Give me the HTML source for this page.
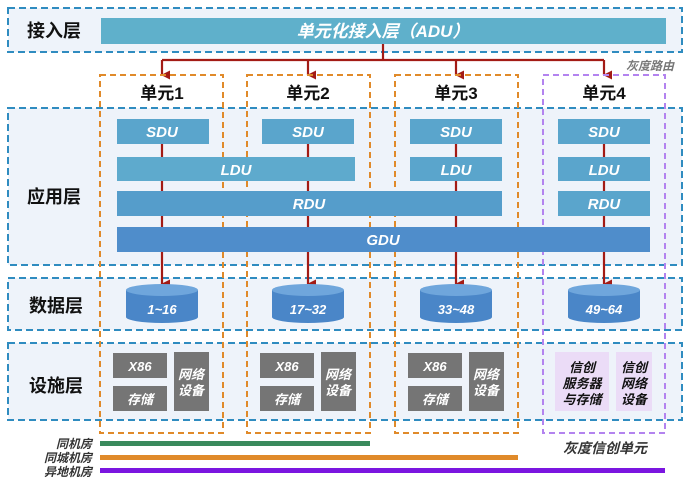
<!DOCTYPE html>
<html><head><meta charset="utf-8"><style>
html,body{margin:0;padding:0;background:#fff;width:690px;height:482px;overflow:hidden}
svg{display:block}
text{font-family:"Liberation Sans","Noto Sans CJK SC",sans-serif;font-weight:bold}
.w{fill:#fff;font-style:italic;font-size:15px}
.lbl{fill:#111;font-size:18px}
</style></head><body>
<svg width="690" height="482" viewBox="0 0 690 482" xmlns="http://www.w3.org/2000/svg">
<defs>
<marker id="ar" markerWidth="9" markerHeight="9" refX="4.5" refY="8" orient="auto" markerUnits="userSpaceOnUse">
<path d="M0,0 L9,0 L4.5,9 z" fill="#a31b15"/></marker>
</defs>
<g fill="#eef3fa" stroke="#2f8cc0" stroke-width="2" stroke-dasharray="7,4">
<rect x="8" y="8" width="674" height="44"/>
<rect x="8" y="108" width="674" height="157"/>
<rect x="8" y="278" width="674" height="52"/>
<rect x="8" y="343" width="674" height="77"/>
</g>
<text class="lbl" x="54" y="37" text-anchor="middle">接入层</text>
<text class="lbl" x="54" y="203" text-anchor="middle">应用层</text>
<text class="lbl" x="56" y="312" text-anchor="middle">数据层</text>
<text class="lbl" x="56" y="392" text-anchor="middle">设施层</text>
<rect x="101" y="18" width="565" height="26" fill="#5fb0cb"/>
<text class="w" x="383" y="37" text-anchor="middle" style="font-size:17px">单元化接入层（ADU）</text>
<g stroke="#a31b15" stroke-width="2.2" fill="none">
<line x1="383" y1="44" x2="383" y2="60"/>
<line x1="162" y1="60" x2="604" y2="60"/>
<line x1="162" y1="60" x2="162" y2="75" marker-end="url(#ar)"/>
<line x1="308" y1="60" x2="308" y2="75" marker-end="url(#ar)"/>
<line x1="456" y1="60" x2="456" y2="75" marker-end="url(#ar)"/>
<line x1="604" y1="60" x2="604" y2="75" marker-end="url(#ar)"/>
</g>
<text x="626" y="70" font-size="12" fill="#777" font-style="italic" font-weight="normal">灰度路由</text>
<g fill="none" stroke-width="2" stroke-dasharray="6,4">
<rect x="100" y="75" width="123" height="358" stroke="#e08a2a"/>
<rect x="247" y="75" width="123" height="358" stroke="#e08a2a"/>
<rect x="395" y="75" width="123" height="358" stroke="#e08a2a"/>
<rect x="543" y="75" width="122" height="358" stroke="#b383ef"/>
</g>
<g font-size="17" fill="#111" text-anchor="middle">
<text x="162" y="99">单元1</text><text x="308" y="99">单元2</text>
<text x="456" y="99">单元3</text><text x="604" y="99">单元4</text>
</g>
<g stroke="#a31b15" stroke-width="2.2">
<line x1="162" y1="144" x2="162" y2="284" marker-end="url(#ar)"/>
<line x1="308" y1="144" x2="308" y2="284" marker-end="url(#ar)"/>
<line x1="456" y1="144" x2="456" y2="284" marker-end="url(#ar)"/>
<line x1="604" y1="144" x2="604" y2="284" marker-end="url(#ar)"/>
</g>
<g fill="#5aa5cc">
<rect x="117" y="119" width="92" height="25"/>
<rect x="262" y="119" width="92" height="25"/>
<rect x="410" y="119" width="92" height="25"/>
<rect x="558" y="119" width="92" height="25"/>
<rect x="117" y="157" width="238" height="24" fill="#5eaacd"/>
<rect x="410" y="157" width="92" height="24"/>
<rect x="558" y="157" width="92" height="24"/>
<rect x="117" y="191" width="385" height="25" fill="#559dcb"/>
<rect x="558" y="191" width="92" height="25"/>
<rect x="117" y="227" width="533" height="25" fill="#4f8dcb"/>
</g>
<g text-anchor="middle">
<text class="w" x="162" y="137">SDU</text><text class="w" x="308" y="137">SDU</text>
<text class="w" x="456" y="137">SDU</text><text class="w" x="604" y="137">SDU</text>
<text class="w" x="236" y="175">LDU</text><text class="w" x="456" y="175">LDU</text>
<text class="w" x="604" y="175">LDU</text>
<text class="w" x="309" y="209">RDU</text><text class="w" x="604" y="209">RDU</text>
<text class="w" x="383" y="245">GDU</text>
</g>
<g>
<g transform="translate(162,0)"><path d="M-36,290 L-36,317 A36,6 0 0 0 36,317 L36,290 z" fill="#4a86c8"/><ellipse cx="0" cy="290" rx="36" ry="6" fill="#6fa6dc"/><text class="w" x="0" y="314" text-anchor="middle" style="font-size:13px">1~16</text></g>
<g transform="translate(308,0)"><path d="M-36,290 L-36,317 A36,6 0 0 0 36,317 L36,290 z" fill="#4a86c8"/><ellipse cx="0" cy="290" rx="36" ry="6" fill="#6fa6dc"/><text class="w" x="0" y="314" text-anchor="middle" style="font-size:13px">17~32</text></g>
<g transform="translate(456,0)"><path d="M-36,290 L-36,317 A36,6 0 0 0 36,317 L36,290 z" fill="#4a86c8"/><ellipse cx="0" cy="290" rx="36" ry="6" fill="#6fa6dc"/><text class="w" x="0" y="314" text-anchor="middle" style="font-size:13px">33~48</text></g>
<g transform="translate(604,0)"><path d="M-36,290 L-36,317 A36,6 0 0 0 36,317 L36,290 z" fill="#4a86c8"/><ellipse cx="0" cy="290" rx="36" ry="6" fill="#6fa6dc"/><text class="w" x="0" y="314" text-anchor="middle" style="font-size:13px">49~64</text></g>
</g>
<g fill="#757575">
<rect x="113" y="353" width="54" height="25"/><rect x="113" y="386" width="54" height="25"/><rect x="174" y="352" width="35" height="59"/>
<rect x="260" y="353" width="54" height="25"/><rect x="260" y="386" width="54" height="25"/><rect x="321" y="352" width="35" height="59"/>
<rect x="408" y="353" width="54" height="25"/><rect x="408" y="386" width="54" height="25"/><rect x="469" y="352" width="35" height="59"/>
</g>
<g fill="#fff" font-size="13" text-anchor="middle" font-style="italic">
<text x="140" y="371">X86</text><text x="140" y="404">存储</text><text x="191" y="379">网络</text><text x="191" y="395">设备</text>
<text x="287" y="371">X86</text><text x="287" y="404">存储</text><text x="338" y="379">网络</text><text x="338" y="395">设备</text>
<text x="435" y="371">X86</text><text x="435" y="404">存储</text><text x="486" y="379">网络</text><text x="486" y="395">设备</text>
</g>
<rect x="555" y="352" width="54" height="59" fill="#ebdcf7"/>
<rect x="616" y="352" width="36" height="59" fill="#ebdcf7"/>
<g fill="#111" font-size="13" text-anchor="middle" font-style="italic">
<text x="582" y="372">信创</text><text x="582" y="388">服务器</text><text x="582" y="404">与存储</text>
<text x="634" y="372">信创</text><text x="634" y="388">网络</text><text x="634" y="404">设备</text>
</g>
<rect x="100" y="441" width="270" height="5" fill="#3a8a5c"/>
<rect x="100" y="455" width="418" height="5" fill="#e08a2a"/>
<rect x="100" y="468" width="565" height="5" fill="#7b16e0"/>
<g font-size="12" fill="#333" text-anchor="end" font-style="italic" font-weight="normal">
<text x="92" y="448">同机房</text><text x="92" y="462">同城机房</text><text x="92" y="476">异地机房</text>
</g>
<text x="605" y="453" font-size="14" fill="#333" text-anchor="middle" font-style="italic" font-weight="normal">灰度信创单元</text>
</svg>
</body></html>
